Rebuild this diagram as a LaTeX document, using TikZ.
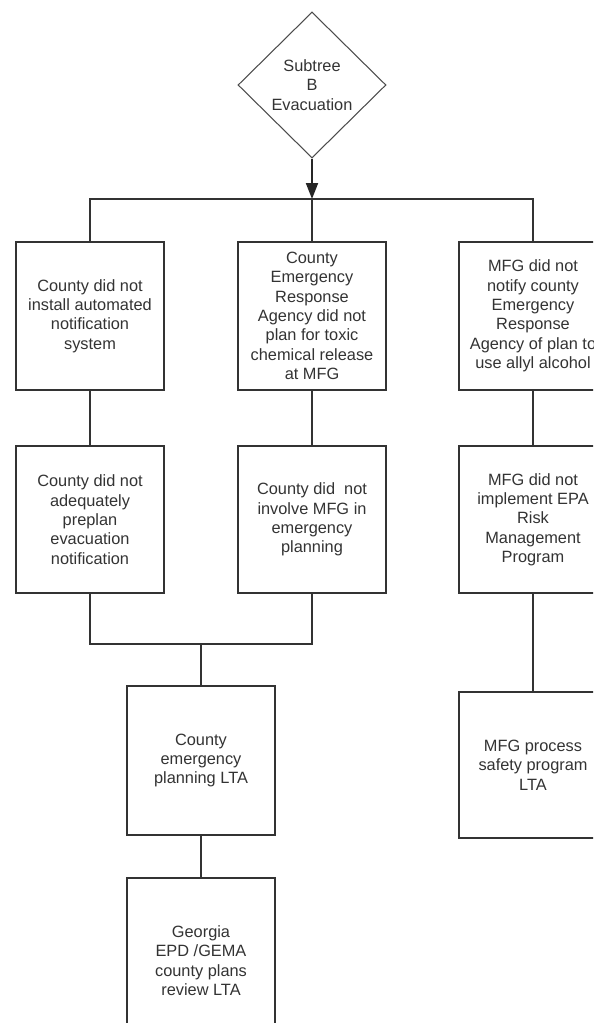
\documentclass[tikz,border=0pt]{standalone}
\usepackage{fontspec}
\setmainfont{Liberation Sans}
\usetikzlibrary{positioning,arrows.meta,shapes.geometric}

\begin{document}
\begin{tikzpicture}[
  every node/.style={font=\fontsize{9.3}{11}\selectfont, text=black!80},
  box/.style={draw=black!80, line width=0.7pt, fill=white, minimum width=2.96cm, minimum height=2.96cm, align=center, inner sep=2pt},
  link/.style={draw=black!80, line width=0.7pt}
]
  \clip (0,0) rectangle (11.86,-20.46);

  % top event
  \node[draw=black!70, line width=0.6pt, diamond, aspect=1, inner sep=0pt, minimum width=2.96cm, minimum height=2.92cm, align=center] (top) at (6.24,-1.70) {Subtree\\B\\Evacuation};
  \coordinate (bus) at (6.24,-3.98);

  % first row
  \node[box] (install) at (1.80,-6.32) {County did not\\install automated\\notification\\system};
  \node[box] (erplan) at (6.24,-6.32) {County\\Emergency\\Response\\Agency did not\\plan for toxic\\chemical release\\at MFG};
  \node[box] (notify) at (10.66,-6.32) {MFG did not\\notify county\\Emergency\\Response\\Agency of plan to\\use allyl alcohol};

  % second row
  \node[box, minimum height=2.94cm] (preplan) at (1.80,-10.39) {County did not\\adequately\\preplan\\evacuation\\notification};
  \node[box, minimum height=2.94cm] (involve) at (6.24,-10.39) {County did~ not\\involve MFG in\\emergency\\planning};
  \node[box, minimum height=2.94cm] (rmp) at (10.66,-10.39) {MFG did not\\implement EPA\\Risk\\Management\\Program};

  % lower levels
  \coordinate (join) at (4.02,-12.88);
  \node[box, minimum height=2.98cm] (cplan) at (4.02,-15.21) {County\\emergency\\planning LTA};
  \node[box, minimum height=3.3cm] (review) at (4.02,-19.21) {Georgia\\EPD /GEMA\\county plans\\review LTA};
  \node[box, minimum height=2.92cm] (psm) at (10.66,-15.30) {MFG process\\safety program\\LTA};

  % connectors
  \draw[link] (install.north) |- (bus) -| (notify.north);
  \draw[link] (erplan.north) -- (bus);
  \draw[line width=1.1pt, black!85, -{Triangle[length=3.2mm, width=2.4mm]}] (top.south) -- (bus);
  \draw[link] (install) -- (preplan);
  \draw[link] (erplan) -- (involve);
  \draw[link] (notify) -- (rmp);
  \draw[link] (preplan.south) |- (join) -| (involve.south);
  \draw[link] (join) -- (cplan);
  \draw[link] (cplan) -- (review);
  \draw[link] (rmp) -- (psm);
\end{tikzpicture}
\end{document}
